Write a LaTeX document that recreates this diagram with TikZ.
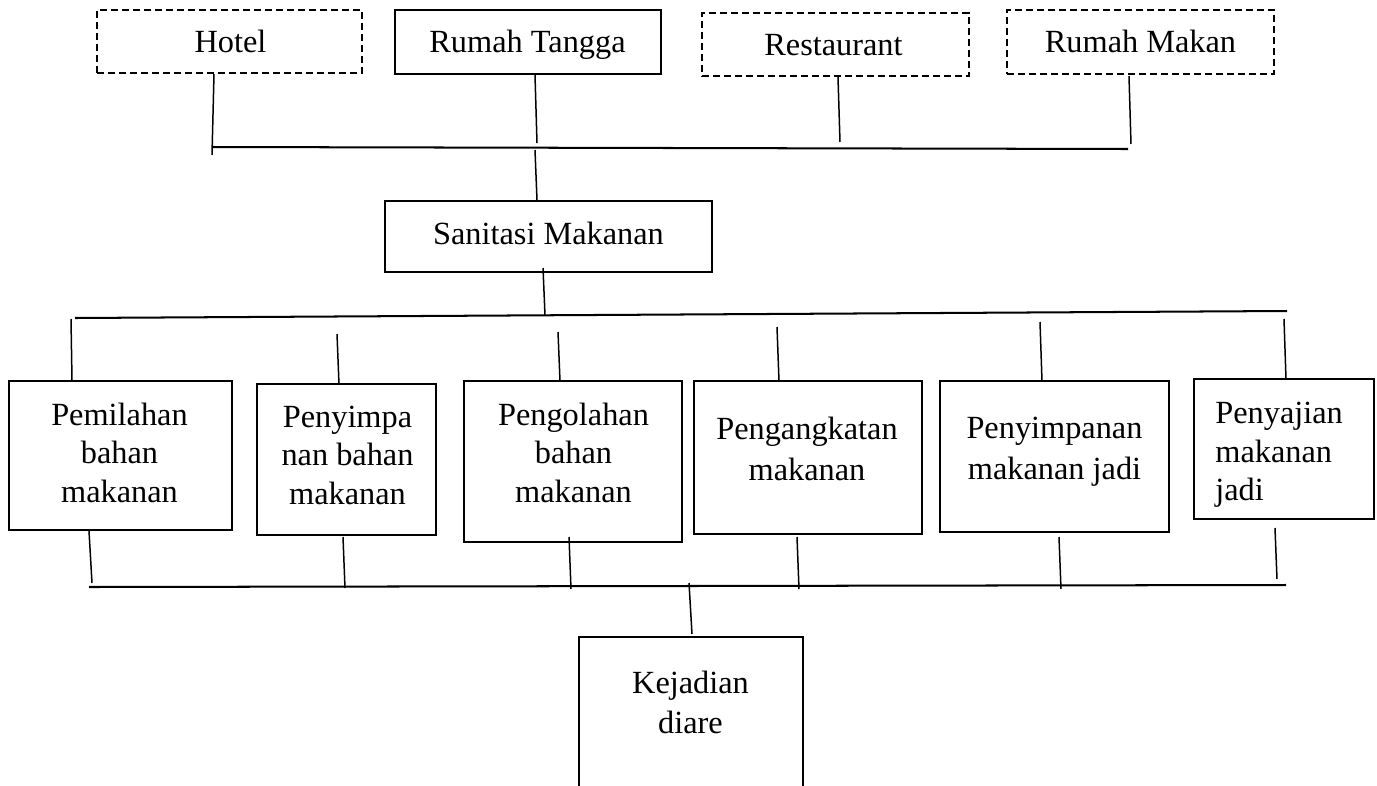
\documentclass[tikz,border=0pt]{standalone}
\usepackage{fontspec}
\setmainfont{Liberation Serif}
\usetikzlibrary{fit}
\begin{document}
\begin{tikzpicture}[x=0.02cm,y=-0.02cm,
  solidbox/.style={draw=black,line width=1.6pt,inner sep=0pt},
  dashbox/.style={draw=black,line width=1.15pt,inner sep=0pt,dash pattern=on 0.14cm off 0.08cm},
  conn/.style={draw=black,line width=0.85pt},
  busline/.style={draw=black,line width=1.15pt},
  txt/.style={inner sep=0pt,align=center,font=\fontsize{18.4pt}{21.9pt}\selectfont},
  txttwo/.style={inner sep=0pt,align=center,font=\fontsize{18.4pt}{23.3pt}\selectfont}]
\useasboundingbox (0,0) rectangle (1377,785);
% top boxes
\node[dashbox,fit={(97,10)(362,73)}] (hotel) {};
\node[solidbox,fit={(395,10)(661,74)}] (rt) {};
\node[dashbox,fit={(702,13)(969,76)}] (rest) {};
\node[dashbox,fit={(1007,10)(1274,74)}] (rm) {};
\node[txt] (thotel) at (230.5,41) {Hotel};
\node[txt] (trt) at (527.5,44.5) {Rumah Tangga};
\node[txt] (trest) at (833.5,45) {Restaurant};
\node[txt] (trm) at (1140.5,41) {Rumah Makan};
% top connectors
\coordinate (h1) at (214,74); \coordinate (h2) at (212,155);
\coordinate (r1) at (535,75); \coordinate (r2) at (537,143);
\coordinate (s1) at (838,77); \coordinate (s2) at (840,142);
\coordinate (m1) at (1129,76); \coordinate (m2) at (1131,144);
\coordinate (busAL) at (212,147); \coordinate (busAR) at (1128,149);
\coordinate (busAm) at (535,150);
\draw[conn] (h1) -- (h2);
\draw[conn] (r1) -- (r2);
\draw[conn] (s1) -- (s2);
\draw[conn] (m1) -- (m2);
\draw[busline] (busAL) -- (busAR);
% sanitasi
\node[solidbox,fit={(385,201)(712,272)}] (san) {};
\node[txt] (tsan) at (548.5,233) {Sanitasi Makanan};
\coordinate (sa) at (537,200);
\draw[conn] (busAm) -- (sa);
\coordinate (sb1) at (543,268); \coordinate (sb2) at (545,315);
\draw[conn] (sb1) -- (sb2);
\coordinate (busBL) at (75,318); \coordinate (busBR) at (1287,311);
\draw[busline] (busBL) -- (busBR);
% middle boxes
\node[solidbox,fit={(9,381)(232,530)}] (b1) {};
\node[solidbox,fit={(257,384)(436,535)}] (b2) {};
\node[solidbox,fit={(464,381)(682,542)}] (b3) {};
\node[solidbox,fit={(694,381)(922,534)}] (b4) {};
\node[solidbox,fit={(940,381)(1169,532)}] (b5) {};
\node[solidbox,fit={(1194,379)(1374,519)}] (b6) {};
\node[txt] (t1) at (119.5,452.5) {Pemilahan\\bahan\\makanan};
\node[txt] (t2) at (347.5,455) {Penyimpa\\nan bahan\\makanan};
\node[txt] (t3) at (573.5,452.5) {Pengolahan\\bahan\\makanan};
\node[txttwo] (t4) at (807,448.5) {Pengangkatan\\makanan};
\node[txttwo] (t5) at (1054.5,452) {Penyimpanan\\makanan jadi};
\node[txt,align=left,anchor=west] (t6) at (1215,455) {Penyajian\\makanan\\jadi};
% drops to boxes
\coordinate (d1a) at (71,319); \coordinate (d1b) at (72,380);
\coordinate (d2a) at (337,334); \coordinate (d2b) at (339,384);
\coordinate (d3a) at (558,332); \coordinate (d3b) at (560,381);
\coordinate (d4a) at (777,327); \coordinate (d4b) at (779,381);
\coordinate (d5a) at (1040,322); \coordinate (d5b) at (1042,381);
\coordinate (d6a) at (1284,319); \coordinate (d6b) at (1286,379);
\foreach \i in {1,...,6} {\draw[conn] (d\i a) -- (d\i b);}
% lower connectors
\coordinate (u1a) at (89,531); \coordinate (u1b) at (92,583);
\coordinate (u2a) at (343,537); \coordinate (u2b) at (345,588);
\coordinate (u3a) at (569,537); \coordinate (u3b) at (571,589);
\coordinate (u4a) at (797,537); \coordinate (u4b) at (799,589);
\coordinate (u5a) at (1059,537); \coordinate (u5b) at (1061,589);
\coordinate (u6a) at (1275,528); \coordinate (u6b) at (1277,579);
\foreach \i in {1,...,6} {\draw[conn] (u\i a) -- (u\i b);}
\coordinate (busCL) at (89,587); \coordinate (busCR) at (1286,585);
\draw[busline] (busCL) -- (busCR);
% kejadian
\coordinate (k1) at (689,583); \coordinate (k2) at (692,634);
\draw[conn] (k1) -- (k2);
\node[solidbox,fit={(579,637)(803,790)}] (kej) {};
\node[txt,font=\fontsize{18.4pt}{22.8pt}\selectfont] (tkej) at (690.5,702) {Kejadian\\diare};
\end{tikzpicture}
\end{document}
